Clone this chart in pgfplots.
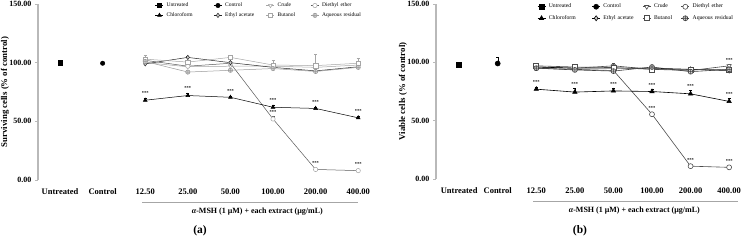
\documentclass[border=0pt]{standalone}
\usepackage{pgfplots}
\pgfplotsset{compat=1.18}
\usepackage{fontspec}
\setmainfont{Liberation Serif}

\pgfplotsset{
  base/.style={
    scale only axis, clip=false, ymin=0, ymax=150,
    axis lines*=left,
    x axis line style={draw=none},
    y axis line style={-, draw=gray!55, line width=1.3pt},
    ytick={0,50,100,150}, yticklabels={0.00,50.00,100.00,150.00},
    ytick style={draw=gray!55, line width=0.8pt}, major tick length=3pt, tick align=outside,
    xtick={0,...,7},
    xticklabels={Untreated,Control,12.50,25.00,50.00,100.00,200.00,400.00},
    xtick style={draw=none},
    yticklabel style={font=\bfseries\fontsize{8}{9}\selectfont},
    xticklabel style={font=\bfseries\fontsize{8.5}{9}\selectfont, yshift=-2pt},
    ylabel style={font=\bfseries\fontsize{8.8}{10}\selectfont, anchor=center},
    error bars/y dir=plus, error bars/y explicit,
    error bars/error bar style={line width=0.4pt},
    error bars/error mark options={rotate=90, mark size=1.5pt, line width=0.4pt},
    legend columns=4, legend cell align=left,
    legend image code/.code={\draw[mark repeat=2,mark phase=2,#1] plot coordinates {(0pt,0pt) (4pt,0pt) (8pt,0pt)};},
  },
  stars/.style={forget plot, draw=none, mark=none, nodes near coords={***},
    every node near coord/.append style={font=\bfseries\fontsize{4.5}{4.5}\selectfont, anchor=south, inner sep=0pt, text=black}},
}

\begin{document}
\begin{tikzpicture}
\useasboundingbox (0,0) rectangle (750pt,-242pt);

% ---------------- panel (a) ----------------
\begin{axis}[base, at={(38pt,-180pt)}, anchor=south west,
  width=333pt, height=176pt, xmin=-0.517, xmax=7.3,
  ylabel={Surviving cells (\% of control)},
  ylabel style={at={([xshift=-33pt]axis description cs:0,0.5)}},
  legend style={at={(axis cs:2.23,152)}, anchor=north west, draw=none, fill=none,
    inner sep=0pt, column sep=2pt, row sep=2.5pt,
    font=\fontsize{5.5}{6}\selectfont,
    nodes={inner sep=1pt},
    /tikz/column 2/.style={text width=44pt},
    /tikz/column 4/.style={text width=38pt},
    /tikz/column 6/.style={text width=30pt},
    /tikz/column 8/.style={text width=42pt}},
  mark size=2.2pt]
\addplot[black, line width=0.5pt, mark=square*] coordinates {(0,100) +- (0,1.5)};
\addlegendentry{Untreated}
\addplot[black, line width=0.5pt, mark=*] coordinates {(1,99.5) +- (0,1)};
\addlegendentry{Control}
\addplot[gray!70, line width=0.5pt, mark=triangle*, mark options={rotate=180, fill=white}] coordinates {
 (2,100) +- (0,3) (3,96.5) +- (0,2) (4,97) +- (0,1.5) (5,97) +- (0,2) (6,96) +- (0,1.5) (7,98) +- (0,1.5)};
\addlegendentry{Crude}
\addplot[black!65, line width=0.5pt, mark=*, mark options={fill=white, draw=gray!70}] coordinates {
 (2,102) +- (0,2) (3,97) +- (0,2) (4,99.5) +- (0,1) (5,52) +- (0,2) (6,9) +- (0,1) (7,8) +- (0,1)};
\addlegendentry{Diethyl ether}
\addplot[black, line width=0.5pt, mark=triangle*] coordinates {
 (2,68) +- (0,2) (3,72) +- (0,2) (4,70.5) +- (0,1) (5,62) +- (0,1.5) (6,61) +- (0,1) (7,53) +- (0,1.5)};
\addlegendentry{Chloroform}
\addplot[black!85, line width=0.5pt, mark=diamond*, mark options={fill=gray!40}] coordinates {
 (2,99) +- (0,1) (3,104.5) +- (0,1) (4,100) +- (0,1) (5,96) +- (0,1) (6,93) +- (0,1) (7,96.5) +- (0,1)};
\addlegendentry{Ethyl acetate}
\addplot[gray!70, line width=0.5pt, mark=square*, mark options={fill=white}] coordinates {
 (2,103) +- (0,3) (3,100.5) +- (0,2) (4,104.5) +- (0,1) (5,98) +- (0,4) (6,97.5) +- (0,9.5) (7,99.5) +- (0,4)};
\addlegendentry{Butanol}
\addplot[gray!80, line width=0.5pt, mark=oplus*, mark options={fill=gray!35}] coordinates {
 (2,101) +- (0,2) (3,92) +- (0,2) (4,93.5) +- (0,1) (5,95) +- (0,1) (6,92.5) +- (0,1) (7,96) +- (0,1)};
\addlegendentry{Aqueous residual}
% significance marks
\addplot[stars] coordinates {(2,73) (3,77) (4,74.5) (5,66.5) (6,65) (7,57.5)};
\addplot[stars] coordinates {(5,56.5) (6,13) (7,12)};
% bracket and caption
\draw[gray!70, line width=0.6pt] ([yshift=-22pt]axis cs:1.93,0) -- ([yshift=-22pt]axis cs:7.0,0);
\node[font=\bfseries\fontsize{8}{9}\selectfont] at ([yshift=-32pt]axis cs:4.63,0)
  {\textit{α}-MSH (1 μM) + each extract (μg/mL)};
\end{axis}

% ---------------- panel (b) ----------------
\begin{axis}[base, at={(436pt,-179pt)}, anchor=south west,
  width=310.5pt, height=175pt, xmin=-0.6, xmax=7.45,
  ylabel={Viable cells (\% of control)},
  ylabel style={at={([xshift=-33pt]axis description cs:0,0.5)}},
  legend style={at={(axis cs:2.02,151)}, anchor=north west, draw=none, fill=none,
    inner sep=0pt, column sep=2pt, row sep=4pt,
    font=\fontsize{5.7}{6}\selectfont,
    nodes={inner sep=1pt},
    /tikz/column 2/.style={text width=40pt},
    /tikz/column 4/.style={text width=36pt},
    /tikz/column 6/.style={text width=24pt},
    /tikz/column 8/.style={text width=42pt}},
  mark size=2.5pt]
\addplot[black, line width=0.6pt, mark=square*] coordinates {(0,98) +- (0,1.5)};
\addlegendentry{Untreated}
\addplot[black, line width=0.6pt, mark=*] coordinates {(1,99) +- (0,5)};
\addlegendentry{Control}
\addplot[black!70, line width=0.6pt, mark=triangle*, mark options={rotate=180, fill=white}] coordinates {
 (2,96) +- (0,1) (3,95) +- (0,1) (4,97) +- (0,2) (5,94) +- (0,1) (6,93) +- (0,1) (7,97) +- (0,1.5)};
\addlegendentry{Crude}
\addplot[black!70, line width=0.6pt, mark=*, mark options={fill=white}] coordinates {
 (2,95) +- (0,1) (3,94) +- (0,1) (4,93) +- (0,1) (5,55.5) +- (0,1.5) (6,11) +- (0,1) (7,10) +- (0,1.5)};
\addlegendentry{Diethyl ether}
\addplot[black, line width=0.6pt, mark=triangle*] coordinates {
 (2,77) +- (0,2) (3,74.5) +- (0,3) (4,75.5) +- (0,2) (5,75) +- (0,2) (6,73) +- (0,3) (7,66.5) +- (0,2.5)};
\addlegendentry{Chloroform}
\addplot[black, line width=0.6pt, mark=diamond*, mark options={fill=gray!40}] coordinates {
 (2,96) +- (0,1) (3,95) +- (0,1) (4,95) +- (0,1) (5,95) +- (0,1) (6,94) +- (0,1) (7,93) +- (0,1)};
\addlegendentry{Ethyl acetate}
\addplot[black!70, line width=0.6pt, mark=square*, mark options={fill=white}] coordinates {
 (2,97) +- (0,1) (3,96) +- (0,1) (4,95.5) +- (0,1) (5,94) +- (0,1) (6,94) +- (0,1) (7,93.5) +- (0,1)};
\addlegendentry{Butanol}
\addplot[black!75, line width=0.6pt, mark=oplus*, mark options={fill=gray!35}] coordinates {
 (2,95) +- (0,1) (3,93.5) +- (0,1) (4,92.5) +- (0,1) (5,96) +- (0,1) (6,92) +- (0,1) (7,94) +- (0,1)};
\addlegendentry{Aqueous residual}
\addplot[stars] coordinates {(2,81.5) (3,80) (4,80) (5,79.5) (6,78.5) (7,71.5)};
\addplot[stars] coordinates {(5,59.5) (6,14.5) (7,14) (7,100.5)};
\draw[gray!70, line width=0.6pt] ([yshift=-22pt]axis cs:1.92,0) -- ([yshift=-22pt]axis cs:7.23,0);
\node[font=\bfseries\fontsize{8}{9}\selectfont] at ([yshift=-32pt]axis cs:4.54,0)
  {\textit{α}-MSH (1 μM) + each extract (μg/mL)};
\end{axis}

\node[font=\bfseries\fontsize{11.5}{12}\selectfont] at (200pt,-231pt) {(a)};
\node[font=\bfseries\fontsize{11.5}{12}\selectfont] at (580pt,-231pt) {(b)};
\end{tikzpicture}
\end{document}
